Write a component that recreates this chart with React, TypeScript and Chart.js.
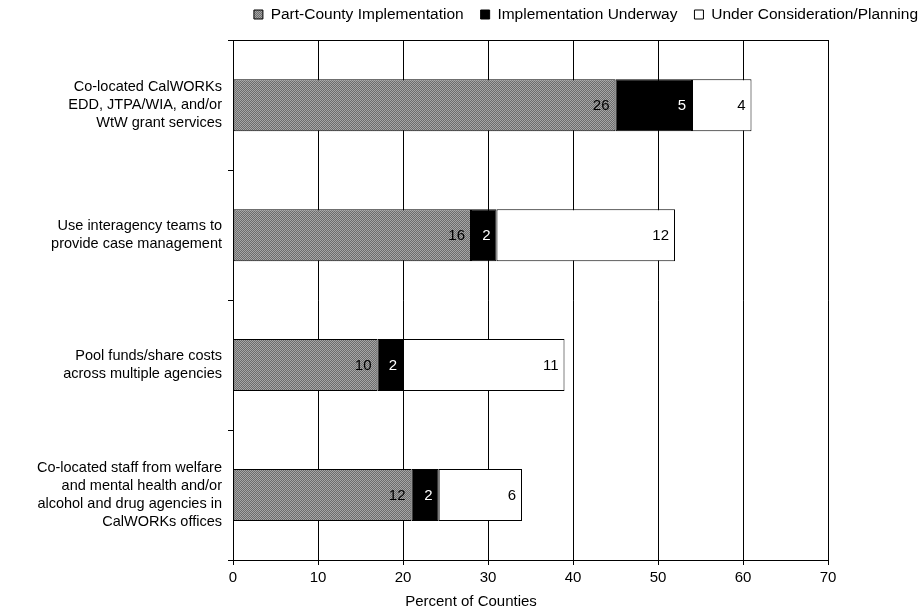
import React, { useEffect, useRef } from "react";
import { Chart, registerables } from "chart.js";

Chart.register(...registerables);

const categories: (string | string[])[] = [
  ["Co-located CalWORKs", "EDD, JTPA/WIA, and/or", "WtW grant services"],
  ["Use interagency teams to", "provide case management"],
  ["Pool funds/share costs", "across multiple agencies"],
  ["Co-located staff from welfare", "and mental health and/or", "alcohol and drug agencies in", "CalWORKs offices"],
];

const seriesNames = [
  "Part-County Implementation",
  "Implementation Underway",
  "Under Consideration/Planning",
];

// Percent of counties (segment lengths)
const partCountyPct = [45, 28, 17, 21];
const underwayPct = [9, 3, 3, 3.2];
const considerationPct = [7, 21, 19, 9.8];

// Counts printed on the segments
const partCountyCount = [26, 16, 10, 12];
const underwayCount = [5, 2, 2, 2];
const considerationCount = [4, 12, 11, 6];

const xTicks = [0, 10, 20, 30, 40, 50, 60, 70];

const axisTitle = "Percent of Counties";

const FONT = "'Liberation Sans', Arial, Helvetica, sans-serif";

function makeGrayPattern(): CanvasPattern | string {
  const c = document.createElement("canvas");
  c.width = 2;
  c.height = 2;
  const g = c.getContext("2d");
  if (!g) return "#8a8a8a";
  g.fillStyle = "#6c6c6c";
  g.fillRect(0, 0, 2, 2);
  g.fillStyle = "#a6a6a6";
  g.fillRect(0, 0, 1, 1);
  g.fillRect(1, 1, 1, 1);
  const p = g.createPattern(c, "repeat");
  return p || "#8a8a8a";
}

export default function App() {
  const ref = useRef<HTMLCanvasElement | null>(null);

  useEffect(() => {
    if (!ref.current) return;
    const gray = makeGrayPattern();
    const counts = [partCountyCount, underwayCount, considerationCount];
    const labelColors = ["#000000", "#ffffff", "#000000"];

    const labelPlugin = {
      id: "segLabels",
      afterDatasetsDraw(chart: any) {
        const ctx = chart.ctx;
        ctx.save();
        ctx.font = `15px ${FONT}`;
        ctx.textAlign = "right";
        ctx.textBaseline = "middle";
        chart.data.datasets.forEach((_ds: any, i: number) => {
          const meta = chart.getDatasetMeta(i);
          meta.data.forEach((bar: any, j: number) => {
            ctx.fillStyle = labelColors[i];
            ctx.fillText(String(counts[i][j]), bar.x - 6, bar.y + 1);
          });
        });
        ctx.restore();
      },
    };

    const blockShift = {
      id: "blockShift",
      afterUpdate(chart: any) {
        const lg = chart.legend;
        if (lg) {
          lg.right = chart.width + 13;
          lg.width = lg.right - lg.left;
          if (lg.adjustHitBoxes) lg.adjustHitBoxes();
        }
        const tb = chart.titleBlock;
        if (tb) {
          tb.left = 20;
          tb.right = chart.width;
          tb.width = tb.right - tb.left;
        }
      },
    };

    const chart = new Chart(ref.current, {
      type: "bar",
      data: {
        labels: categories,
        datasets: [
          {
            label: seriesNames[0],
            data: partCountyPct,
            backgroundColor: gray as any,
            borderColor: "#000000",
            borderWidth: 1,
            borderSkipped: false,
          },
          {
            label: seriesNames[1],
            data: underwayPct,
            backgroundColor: "#000000",
            borderColor: "#000000",
            borderWidth: 1,
            borderSkipped: false,
          },
          {
            label: seriesNames[2],
            data: considerationPct,
            backgroundColor: "#ffffff",
            borderColor: "#000000",
            borderWidth: 1,
            borderSkipped: false,
          },
        ],
      },
      options: {
        indexAxis: "y",
        responsive: false,
        animation: false,
        devicePixelRatio: 1,
        layout: { padding: { top: -14, right: 94, bottom: 0, left: 0 } },
        datasets: {
          bar: { categoryPercentage: 1, barPercentage: 0.4 },
        },
        plugins: {
          legend: {
            display: true,
            position: "top",
            align: "end",
            labels: {
              boxWidth: 9,
              boxHeight: 9,
              padding: 17,
              color: "#000000",
              font: { family: FONT, size: 15.5 },
            },
          },
          tooltip: { enabled: false },
          title: {
            display: true,
            position: "bottom",
            text: axisTitle,
            color: "#000000",
            font: { family: FONT, size: 15, weight: "normal" },
            padding: { top: 2, bottom: 0 },
          },
        },
        scales: {
          x: {
            type: "linear",
            stacked: true,
            position: "bottom",
            min: 0,
            max: 70,
            afterBuildTicks: (scale: any) => {
              scale.ticks = xTicks.map((v) => ({ value: v }));
            },
            grid: {
              color: "#000000",
              lineWidth: 1,
              drawTicks: true,
              tickLength: 5,
              tickColor: "#000000",
            },
            border: { display: true, color: "#000000", width: 1 },
            ticks: {
              color: "#000000",
              padding: 4,
              font: { family: FONT, size: 15 },
            },
          },
          x2: {
            type: "linear",
            position: "top",
            min: 0,
            max: 70,
            grid: { display: false, drawOnChartArea: false, drawTicks: false },
            border: { display: true, color: "#000000", width: 1 },
            ticks: { display: false },
            afterFit: (scale: any) => {
              scale.height = 8;
            },
          },
          y: {
            stacked: true,
            grid: {
              display: true,
              drawOnChartArea: false,
              drawTicks: true,
              tickLength: 5,
              color: "#000000",
              offset: true,
            },
            border: { display: true, color: "#000000", width: 1 },
            ticks: {
              color: "#000000",
              padding: 6,
              font: { family: FONT, size: 14.5, lineHeight: 1.25 },
            },
            afterFit: (scale: any) => {
              scale.width = 233;
            },
          },
        },
      },
      plugins: [labelPlugin, blockShift],
    } as any);

    return () => chart.destroy();
  }, []);

  return (
    <div style={{ position: "absolute", left: 0, top: -2, width: 922, height: 613, background: "#ffffff" }}>
      <canvas ref={ref} width={922} height={613} style={{ display: "block" }} />
    </div>
  );
}
